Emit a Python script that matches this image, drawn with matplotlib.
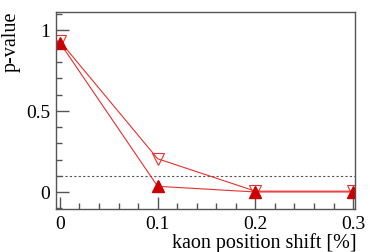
import matplotlib.pyplot as plt
from matplotlib.ticker import MultipleLocator

shift = [0.0, 0.1, 0.2, 0.3]
pval_open = [0.93, 0.205, 0.005, 0.005]
pval_filled = [0.92, 0.035, 0.0, 0.0]
threshold = 0.1

plt.rcParams['font.family'] = ['Liberation Serif', 'DejaVu Serif']

fig = plt.figure(figsize=(3.74, 2.53), dpi=100)
ax = fig.add_axes([56 / 374, 43 / 253, 299 / 374, 197 / 253])

ax.axhline(threshold, color='#555555', lw=0.8, ls=(0, (2, 2)))
ax.plot(shift, pval_open, color='#e8302f', lw=0.8, marker='v', ms=9,
        mfc='none', mec='#e8302f', mew=0.8)
ax.plot(shift, pval_filled, color='#e8302f', lw=0.8, marker='^', ms=9,
        mfc='#cc0000', mec='#cc0000')

ax.set_xlim(-0.004, 0.302)
ax.set_ylim(-0.105, 1.11)
ax.xaxis.set_minor_locator(MultipleLocator(0.02))
ax.yaxis.set_minor_locator(MultipleLocator(0.1))
ax.set_xticks([0, 0.1, 0.2, 0.3])
ax.set_xticklabels(['0', '0.1', '0.2', '0.3'])
ax.set_yticks([0, 0.5, 1])
ax.set_yticklabels(['0', '0.5', '1'])

for s in ax.spines.values():
    s.set_color('#555555')
    s.set_linewidth(1.0)
ax.tick_params(which='both', direction='in', top=False, right=False,
               color='#555555', labelsize=14, width=1.0)
ax.tick_params(which='major', length=9)
ax.tick_params(axis='x', which='major', pad=4)
ax.tick_params(axis='y', which='major', pad=4)
ax.tick_params(which='minor', length=4.5)

# axis titles placed like ROOT does: right/top aligned
fig.text(357 / 374, 1 - 253 / 253, 'kaon position shift [%]', fontsize=14.5,
         ha='right', va='bottom')
fig.text(2 / 374, 1 - 12 / 253, 'p-value', fontsize=14.5, rotation=90,
         ha='left', va='top')

fig.savefig('out.png', dpi=100)
